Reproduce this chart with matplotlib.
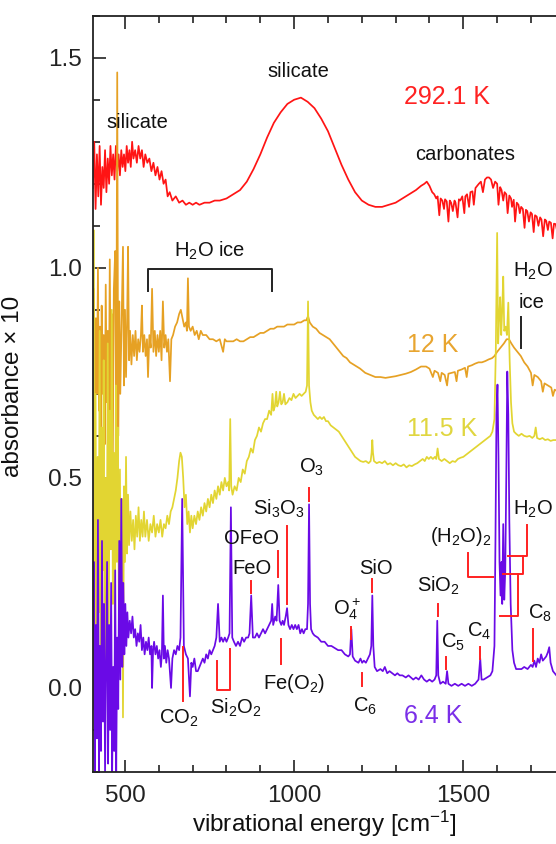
import matplotlib.pyplot as plt
from matplotlib.ticker import MultipleLocator

plt.rcParams['font.family'] = ['Liberation Sans', 'DejaVu Sans']
plt.rcParams['mathtext.fontset'] = 'custom'
plt.rcParams['mathtext.rm'] = 'Liberation Sans'
plt.rcParams['mathtext.it'] = 'Liberation Sans:italic'

# 292.1 K spectrum
red_x = [405, 409, 413, 417, 421, 425, 429, 433, 437, 441, 445, 449, 453, 457, 461, 465, 469, 473, 477, 481,
         485, 489, 493, 497, 501, 505, 509, 513, 517, 521, 525, 530, 535, 540, 545, 550, 555, 560, 566, 572,
         578, 584, 590, 596, 602, 608, 614, 620, 626, 632, 640, 650, 660, 670, 680, 690, 700, 710, 720, 735,
         750, 765, 780, 800, 820, 840, 860, 880, 900, 920, 940, 960, 980, 1000, 1020, 1040, 1060, 1080, 1100, 1120,
         1140, 1160, 1180, 1200, 1220, 1240, 1260, 1280, 1300, 1320, 1340, 1360, 1375, 1385, 1392, 1400, 1408, 1414, 1420, 1424,
         1429, 1433, 1438, 1443, 1446, 1451, 1456, 1460, 1464, 1469, 1474, 1477, 1483, 1487, 1491, 1497, 1503, 1506, 1511, 1517,
         1521, 1527, 1531, 1536, 1541, 1546, 1552, 1558, 1564, 1570, 1576, 1582, 1588, 1594, 1600, 1604, 1609, 1613, 1618, 1622,
         1627, 1631, 1636, 1641, 1644, 1649, 1653, 1658, 1663, 1667, 1671, 1676, 1681, 1685, 1689, 1694, 1699, 1703, 1708, 1712,
         1717, 1722, 1727, 1731, 1736, 1741, 1745, 1750, 1754, 1759, 1764, 1768, 1773, 1778, 1783, 1790, 1800]
red_y = [1.19, 1.30, 1.14, 1.27, 1.17, 1.29, 1.15, 1.24, 1.19, 1.28, 1.18, 1.26, 1.20, 1.29, 1.22, 1.27, 1.21, 1.29, 1.23, 1.27,
         1.22, 1.28, 1.24, 1.27, 1.23, 1.29, 1.25, 1.28, 1.24, 1.30, 1.26, 1.28, 1.25, 1.29, 1.26, 1.28, 1.24, 1.27, 1.25, 1.26,
         1.23, 1.25, 1.22, 1.24, 1.21, 1.23, 1.20, 1.21, 1.17, 1.18, 1.16, 1.17, 1.155, 1.16, 1.15, 1.155, 1.15, 1.155, 1.15, 1.155,
         1.155, 1.16, 1.16, 1.165, 1.175, 1.185, 1.205, 1.235, 1.27, 1.31, 1.345, 1.37, 1.39, 1.40, 1.405, 1.395, 1.38, 1.355, 1.325, 1.285,
         1.245, 1.21, 1.18, 1.16, 1.15, 1.145, 1.145, 1.15, 1.155, 1.165, 1.175, 1.185, 1.195, 1.20, 1.205, 1.195, 1.18, 1.175, 1.165, 1.17,
         1.125, 1.165, 1.16, 1.14, 1.163, 1.158, 1.11, 1.16, 1.155, 1.135, 1.16, 1.155, 1.12, 1.163, 1.16, 1.17, 1.13, 1.17, 1.175, 1.145,
         1.18, 1.182, 1.15, 1.19, 1.195, 1.20, 1.205, 1.18, 1.21, 1.215, 1.215, 1.21, 1.19, 1.205, 1.2, 1.15, 1.192, 1.185, 1.16, 1.18,
         1.175, 1.13, 1.172, 1.165, 1.145, 1.162, 1.11, 1.155, 1.15, 1.13, 1.145, 1.14, 1.095, 1.138, 1.135, 1.11, 1.132, 1.128, 1.085, 1.125,
         1.122, 1.1, 1.12, 1.115, 1.075, 1.115, 1.112, 1.09, 1.11, 1.107, 1.07, 1.105, 1.104, 1.085, 1.103, 1.10, 1.10]

# 12 K spectrum
orange_x = [405, 408, 411, 414, 417, 420, 423, 426, 429, 431, 434, 437, 440, 443, 446, 449, 452, 455, 458, 461,
            464, 467, 471, 474, 477, 480, 483, 486, 490, 494, 497, 500, 503, 506, 509, 512, 515, 519, 523, 527,
            531, 535, 539, 543, 547, 550, 553, 557, 561, 565, 568, 572, 576, 580, 584, 588, 592, 596, 600, 604,
            608, 612, 616, 620, 624, 628, 633, 637, 642, 648, 654, 660, 665, 670, 675, 680, 683, 686, 689, 694,
            700, 706, 712, 718, 724, 730, 740, 750, 760, 770, 780, 790, 795, 800, 810, 820, 830, 840, 850, 860,
            870, 880, 890, 900, 910, 920, 930, 940, 950, 960, 970, 980, 990, 1000, 1010, 1020, 1030, 1036, 1041, 1046,
            1055, 1065, 1075, 1085, 1095, 1105, 1115, 1125, 1135, 1145, 1155, 1165, 1175, 1185, 1195, 1210, 1225, 1240, 1255, 1270,
            1285, 1300, 1315, 1330, 1345, 1360, 1375, 1390, 1400, 1410, 1415, 1425, 1432, 1436, 1445, 1452, 1456, 1465, 1475, 1480,
            1484, 1495, 1505, 1510, 1514, 1525, 1535, 1545, 1555, 1565, 1575, 1585, 1592, 1600, 1610, 1620, 1628, 1635, 1642, 1650,
            1660, 1670, 1680, 1690, 1700, 1705, 1710, 1720, 1730, 1735, 1740, 1750, 1760, 1765, 1770, 1780, 1790, 1800]
orange_y = [0.72, 0.95, 0.63, 0.88, 0.70, 1.00, 0.66, 0.86, 0.60, 0.91, 0.70, 0.84, 0.58, 0.96, 0.68, 0.85, 0.62, 1.02, 0.66, 0.89,
            0.56, 0.95, 1.04, 0.62, 1.465, 0.60, 0.92, 0.70, 0.88, 1.05, 0.72, 0.90, 0.74, 0.86, 1.05, 0.78, 0.85, 0.77, 0.84, 0.79,
            0.85, 0.78, 0.83, 0.80, 0.84, 0.91, 0.80, 0.84, 0.79, 0.83, 0.74, 0.84, 0.81, 0.95, 0.80, 0.85, 0.79, 0.84, 0.80, 0.85,
            0.78, 0.92, 0.81, 0.84, 0.80, 0.83, 0.73, 0.83, 0.84, 0.86, 0.87, 0.89, 0.90, 0.88, 0.86, 0.87, 0.85, 0.975, 0.86, 0.85,
            0.86, 0.84, 0.85, 0.83, 0.85, 0.84, 0.84, 0.83, 0.83, 0.825, 0.83, 0.80, 0.83, 0.825, 0.825, 0.825, 0.83, 0.825, 0.825, 0.83,
            0.835, 0.835, 0.84, 0.845, 0.845, 0.85, 0.855, 0.855, 0.86, 0.86, 0.86, 0.865, 0.865, 0.865, 0.87, 0.87, 0.875, 0.875, 0.885, 0.87,
            0.86, 0.855, 0.845, 0.84, 0.835, 0.83, 0.82, 0.81, 0.80, 0.79, 0.785, 0.775, 0.77, 0.765, 0.76, 0.75, 0.745, 0.74, 0.74, 0.738,
            0.74, 0.742, 0.745, 0.748, 0.752, 0.758, 0.765, 0.765, 0.76, 0.74, 0.755, 0.75, 0.73, 0.75, 0.745, 0.72, 0.748, 0.75, 0.752, 0.73,
            0.755, 0.758, 0.762, 0.74, 0.765, 0.768, 0.772, 0.775, 0.775, 0.778, 0.782, 0.785, 0.79, 0.80, 0.81, 0.82, 0.83, 0.83, 0.82, 0.81,
            0.80, 0.79, 0.775, 0.765, 0.75, 0.72, 0.745, 0.74, 0.73, 0.705, 0.725, 0.72, 0.715, 0.695, 0.71, 0.705, 0.70, 0.70]

# 11.5 K spectrum
yellow_x = [405, 407, 410, 413, 416, 419, 422, 425, 428, 431, 434, 437, 440, 443, 446, 449, 452, 455, 458, 461,
            464, 467, 470, 473, 476, 479, 482, 485, 488, 491, 494, 497, 500, 503, 506, 509, 512, 516, 520, 524,
            528, 532, 536, 540, 544, 548, 552, 556, 560, 565, 570, 575, 580, 585, 590, 595, 600, 605, 610, 615,
            620, 625, 630, 635, 640, 645, 650, 655, 660, 664, 668, 672, 676, 680, 684, 688, 692, 696, 700, 705,
            710, 715, 720, 725, 730, 735, 740, 745, 750, 755, 760, 765, 770, 775, 780, 785, 790, 795, 800, 805,
            808, 811, 814, 818, 824, 830, 836, 842, 848, 854, 860, 866, 872, 878, 884, 890, 896, 902, 908, 914,
            920, 926, 932, 936, 939, 943, 947, 950, 954, 958, 962, 966, 970, 974, 980, 986, 992, 998, 1004, 1010,
            1016, 1022, 1028, 1034, 1038, 1041, 1044, 1048, 1052, 1058, 1064, 1070, 1076, 1082, 1088, 1094, 1100, 1108, 1116, 1124,
            1132, 1140, 1148, 1156, 1164, 1172, 1180, 1188, 1196, 1204, 1212, 1220, 1226, 1229, 1231, 1233, 1236, 1244, 1252, 1260,
            1268, 1276, 1284, 1292, 1300, 1308, 1316, 1324, 1332, 1340, 1348, 1356, 1364, 1372, 1380, 1386, 1392, 1398, 1404, 1410,
            1416, 1420, 1424, 1428, 1436, 1444, 1452, 1460, 1468, 1476, 1484, 1492, 1500, 1508, 1516, 1524, 1532, 1540, 1548, 1556,
            1564, 1572, 1580, 1586, 1592, 1596, 1600, 1603, 1606, 1609, 1612, 1615, 1618, 1621, 1625, 1629, 1633, 1637, 1641, 1645,
            1650, 1656, 1664, 1672, 1680, 1688, 1696, 1704, 1710, 1714, 1718, 1726, 1734, 1742, 1750, 1758, 1766, 1774, 1787, 1800]
yellow_y = [0.30, 1.09, 0.12, 0.70, 0.05, 0.55, 0.18, 0.85, 0.08, 0.62, 0.28, 0.78, 0.04, 0.50, 0.24, 0.82, 0.14, 0.66, 0.33, 0.90,
            0.20, 0.56, 0.10, 0.72, 0.30, 0.62, 0.15, 0.52, 0.20, 0.45, -0.07, 0.48, 0.30, 0.55, 0.32, 0.46, 0.34, 0.42, 0.35, 0.40,
            0.33, 0.41, 0.36, 0.43, 0.35, 0.40, 0.36, 0.42, 0.36, 0.40, 0.35, 0.39, 0.37, 0.41, 0.36, 0.39, 0.37, 0.40, 0.36, 0.39,
            0.38, 0.41, 0.39, 0.42, 0.43, 0.45, 0.47, 0.50, 0.54, 0.56, 0.55, 0.50, 0.43, 0.46, 0.39, 0.42, 0.37, 0.41, 0.38, 0.41,
            0.39, 0.42, 0.40, 0.43, 0.41, 0.44, 0.42, 0.45, 0.43, 0.46, 0.44, 0.47, 0.45, 0.48, 0.46, 0.49, 0.47, 0.50, 0.48, 0.49,
            0.47, 0.64, 0.48, 0.46, 0.48, 0.47, 0.50, 0.49, 0.52, 0.51, 0.54, 0.55, 0.57, 0.56, 0.59, 0.60, 0.62, 0.61, 0.63, 0.64,
            0.64, 0.66, 0.65, 0.70, 0.66, 0.67, 0.705, 0.67, 0.68, 0.705, 0.675, 0.68, 0.70, 0.675, 0.68, 0.69, 0.685, 0.70, 0.69, 0.695,
            0.70, 0.695, 0.70, 0.705, 0.72, 0.92, 0.72, 0.68, 0.66, 0.65, 0.645, 0.64, 0.645, 0.64, 0.645, 0.635, 0.635, 0.625, 0.62, 0.615,
            0.61, 0.60, 0.59, 0.58, 0.57, 0.56, 0.55, 0.545, 0.54, 0.538, 0.54, 0.535, 0.54, 0.56, 0.59, 0.56, 0.54, 0.535, 0.538, 0.535,
            0.54, 0.532, 0.535, 0.53, 0.535, 0.53, 0.528, 0.532, 0.525, 0.53, 0.528, 0.532, 0.535, 0.54, 0.545, 0.54, 0.55, 0.545, 0.55, 0.545,
            0.55, 0.545, 0.57, 0.545, 0.54, 0.545, 0.54, 0.535, 0.54, 0.538, 0.545, 0.548, 0.55, 0.555, 0.56, 0.565, 0.57, 0.575, 0.58, 0.585,
            0.59, 0.595, 0.60, 0.61, 0.64, 0.80, 1.083, 0.82, 0.88, 0.93, 0.84, 0.90, 0.979, 0.85, 0.86, 0.84, 0.917, 0.78, 0.68, 0.63,
            0.61, 0.605, 0.60, 0.605, 0.60, 0.598, 0.60, 0.595, 0.60, 0.62, 0.595, 0.592, 0.595, 0.59, 0.592, 0.588, 0.59, 0.59, 0.588, 0.585]

# 6.4 K spectrum
purple_x = [405, 408, 411, 414, 417, 420, 423, 426, 429, 432, 435, 438, 441, 444, 447, 450, 453, 456, 459, 462,
            465, 468, 471, 474, 477, 480, 483, 486, 489, 492, 495, 498, 501, 504, 507, 510, 514, 518, 522, 526,
            530, 534, 538, 542, 546, 550, 554, 558, 562, 566, 570, 574, 578, 580, 583, 586, 590, 594, 598, 602,
            606, 609, 612, 615, 618, 622, 626, 630, 636, 640, 645, 650, 655, 660, 664, 669, 674, 680, 686, 692,
            696, 700, 705, 710, 715, 720, 725, 730, 735, 740, 745, 750, 755, 760, 765, 770, 775, 780, 785, 790,
            795, 800, 805, 809, 813, 817, 822, 828, 834, 840, 846, 852, 858, 864, 868, 873, 878, 884, 890, 896,
            902, 908, 914, 920, 926, 932, 935, 938, 941, 944, 948, 953, 957, 962, 966, 970, 975, 979, 983, 988,
            993, 998, 1003, 1008, 1013, 1018, 1023, 1028, 1033, 1038, 1041, 1044, 1047, 1050, 1055, 1060, 1070, 1080, 1090, 1100,
            1110, 1120, 1130, 1140, 1150, 1160, 1165, 1169, 1173, 1180, 1190, 1196, 1201, 1206, 1212, 1218, 1224, 1228, 1231, 1234,
            1238, 1245, 1255, 1262, 1268, 1275, 1282, 1290, 1298, 1305, 1312, 1320, 1330, 1338, 1345, 1352, 1360, 1368, 1376, 1384,
            1392, 1400, 1408, 1415, 1420, 1423, 1426, 1432, 1440, 1448, 1452, 1456, 1465, 1475, 1485, 1495, 1505, 1515, 1525, 1535,
            1545, 1550, 1554, 1560, 1570, 1580, 1586, 1592, 1595, 1598, 1601, 1604, 1607, 1610, 1613, 1615, 1618, 1621, 1624, 1627,
            1630, 1633, 1636, 1640, 1645, 1650, 1656, 1664, 1672, 1680, 1690, 1700, 1705, 1710, 1715, 1720, 1725, 1730, 1735, 1740,
            1745, 1750, 1754, 1758, 1765, 1775, 1790, 1800]
purple_y = [-0.05, 0.30, -0.20, 0.15, -0.12, 0.40, -0.20, 0.10, -0.15, 0.35, -0.08, 0.20, -0.20, 0.05, 0.30, -0.18, 0.15, -0.10, 0.25, -0.20,
            0.05, -0.15, 0.28, -0.20, 0.12, -0.05, 0.35, 0.02, 0.45, 0.05, 0.25, 0.08, 0.20, 0.10, 0.18, 0.12, 0.16, 0.13, 0.17, 0.12,
            0.14, 0.10, 0.13, 0.11, 0.15, 0.09, 0.12, 0.08, 0.11, 0.09, 0.12, 0.08, 0.10, 0.00, 0.09, 0.11, 0.08, 0.10, 0.07, 0.09,
            0.05, 0.08, 0.22, 0.07, 0.10, 0.06, 0.09, 0.07, 0.00, 0.07, 0.09, 0.08, 0.10, 0.09, 0.12, 0.45, 0.10, 0.08, 0.07, -0.02,
            0.06, 0.05, 0.07, 0.04, 0.04, 0.05, 0.06, 0.07, 0.06, 0.08, 0.07, 0.09, 0.08, 0.09, 0.10, 0.12, 0.20, 0.11, 0.12, 0.11,
            0.12, 0.11, 0.12, 0.13, 0.43, 0.12, 0.11, 0.10, 0.11, 0.10, 0.12, 0.11, 0.12, 0.12, 0.13, 0.22, 0.12, 0.12, 0.13, 0.12,
            0.13, 0.14, 0.13, 0.14, 0.15, 0.16, 0.20, 0.15, 0.16, 0.17, 0.16, 0.245, 0.16, 0.15, 0.16, 0.15, 0.17, 0.19, 0.15, 0.14,
            0.15, 0.14, 0.15, 0.14, 0.15, 0.13, 0.14, 0.13, 0.14, 0.14, 0.20, 0.437, 0.20, 0.14, 0.13, 0.125, 0.12, 0.11, 0.11, 0.10,
            0.10, 0.095, 0.09, 0.09, 0.08, 0.075, 0.08, 0.14, 0.075, 0.065, 0.06, 0.07, 0.06, 0.065, 0.06, 0.07, 0.08, 0.10, 0.22, 0.10,
            0.05, 0.04, 0.045, 0.04, 0.05, 0.035, 0.04, 0.035, 0.03, 0.035, 0.03, 0.03, 0.025, 0.03, 0.025, 0.02, 0.025, 0.02, 0.03, 0.02,
            0.015, 0.02, 0.015, 0.02, 0.03, 0.16, 0.03, 0.01, 0.015, 0.01, 0.04, 0.01, 0.005, 0.01, 0.005, 0.01, 0.005, 0.01, 0.005, 0.01,
            0.02, 0.07, 0.02, 0.02, 0.025, 0.03, 0.04, 0.10, 0.35, 0.65, 0.722, 0.55, 0.30, 0.22, 0.30, 0.20, 0.39, 0.21, 0.28, 0.50,
            0.753, 0.65, 0.40, 0.20, 0.09, 0.06, 0.045, 0.045, 0.045, 0.05, 0.045, 0.055, 0.05, 0.065, 0.05, 0.07, 0.06, 0.08, 0.065, 0.07,
            0.075, 0.085, 0.097, 0.06, 0.04, 0.03, 0.02, 0.02]

# red assignment markers (wavenumber, absorbance polylines)
mark_lines = [
    ([671.6, 671.6], [0.097, -0.031]),                      # CO2
    ([772, 772, 810.6, 810.6], [0.064, -0.005, -0.005, 0.093]),  # Si2O2
    ([872.8, 872.8], [0.254, 0.226]),                       # FeO
    ([952.6, 952.6], [0.325, 0.264]),                       # OFeO
    ([961.5, 961.5], [0.116, 0.057]),                       # Fe(O2)
    ([979, 979], [0.385, 0.20]),                            # Si3O3
    ([1044, 1044], [0.475, 0.444]),                         # O3
    ([1169, 1169], [0.145, 0.116]),                         # O4+
    ([1201, 1201], [0.036, 0.005]),                         # C6
    ([1231, 1231], [0.259, 0.228]),                         # SiO
    ([1426, 1426], [0.20, 0.171]),                          # SiO2
    ([1450, 1450], [0.074, 0.045]),                         # C5
    ([1550, 1550], [0.097, 0.069]),                         # C4
    ([1707, 1707], [0.140, 0.064]),                         # C8
    ([1515, 1515, 1589], [0.321, 0.264, 0.264]),            # (H2O)2
    ([1689, 1689, 1633], [0.387, 0.314, 0.314]),            # H2O
    ([1675, 1675, 1618], [0.314, 0.271, 0.271]),
    ([1663, 1663, 1609], [0.271, 0.171, 0.171]),
]

# assignment labels: text, x, baseline y, alignment
labels = [
    ("silicate", 537, 1.333, "center"),
    ("silicate", 1012, 1.454, "center"),
    ("carbonates", 1504, 1.257, "center"),
    ("H$_2$O ice", 751, 1.026, "center"),
    ("H$_2$O", 1648, 0.979, "left"),
    ("ice", 1663, 0.905, "left"),
    ("O$_3$", 1052, 0.513, "center"),
    ("Si$_3$O$_3$", 953, 0.413, "center"),
    ("OFeO", 875, 0.342, "center"),
    ("FeO", 876, 0.271, "center"),
    ("SiO", 1243, 0.271, "center"),
    ("O$_4^+$", 1115, 0.176, "left"),
    ("SiO$_2$", 1364, 0.228, "left"),
    ("(H$_2$O)$_2$", 1402, 0.347, "left"),
    ("H$_2$O", 1648, 0.413, "left"),
    ("C$_5$", 1435, 0.097, "left"),
    ("C$_4$", 1512, 0.121, "left"),
    ("C$_8$", 1692, 0.164, "left"),
    ("C$_6$", 1175, -0.057, "left"),
    ("Fe(O$_2$)", 908, -0.002, "left"),
    ("CO$_2$", 601, -0.086, "left"),
    ("Si$_2$O$_2$", 752, -0.062, "left"),
]

temps = ["292.1 K", "12 K", "11.5 K", "6.4 K"]
temp_x = [1325, 1334, 1334, 1325]
temp_y = [1.390, 0.800, 0.599, -0.083]

colors = ["#ff1414", "#e6a124", "#e2d532", "#6a0ae6"]
text_colors = ["#ff2222", "#e8a530", "#e0d640", "#7a2ee8"]

fig = plt.figure(figsize=(5.56, 8.44), dpi=100)
ax = fig.add_axes([92.7 / 556, 72 / 844, (564.8 - 92.7) / 556, (772 - 15.7) / 844])

series = [(red_x, red_y), (orange_x, orange_y), (yellow_x, yellow_y), (purple_x, purple_y)]
for (xs, ys), c in zip(series, colors):
    ax.plot(xs, ys, color=c, lw=1.25)

for xs, ys in mark_lines:
    ax.plot(xs, ys, color="#ff2020", lw=1.4, zorder=5)

# black brackets for the water ice bands
ax.plot([568, 568, 935, 935], [0.945, 0.998, 0.998, 0.945], color="#222222", lw=1.4)
ax.plot([1671.6, 1671.6], [0.884, 0.81], color="#222222", lw=1.4)

for txt, x, y, ha in labels:
    ax.text(x, y, txt, ha=ha, va="baseline", fontsize=14.5, color="#111111")

for t, x, y, c in zip(temps, temp_x, temp_y, text_colors):
    ax.text(x, y, t, ha="left", va="baseline", fontsize=18, color=c)

ax.set_xlim(404.5, 1800)
ax.set_ylim(-0.2, 1.6)
ax.set_xticks([500, 1000, 1500])
ax.xaxis.set_minor_locator(MultipleLocator(100))
ax.set_yticks([0.0, 0.5, 1.0, 1.5])
ax.yaxis.set_minor_locator(MultipleLocator(0.1))
ax.tick_params(which="both", direction="in", top=True, right=False, width=1.2, labelsize=17.5, colors="#222222")
ax.tick_params(which="major", length=9)
ax.tick_params(which="minor", length=5)
ax.tick_params(axis="x", pad=9)
ax.tick_params(axis="y", pad=8)
ax.set_yticklabels(["0.0", "0.5", "1.0", "1.5"])
for s in ax.spines.values():
    s.set_linewidth(1.3)
    s.set_color("#222222")

ax.set_xlabel("vibrational energy [cm$^{-1}$]", fontsize=17.5, color="#111111")
ax.set_ylabel("absorbance × 10", fontsize=17.5, color="#111111")
ax.xaxis.set_label_coords(0.49, -0.048)
ax.yaxis.set_label_coords(-0.145, 0.51)

fig.savefig("out.png", dpi=100)
